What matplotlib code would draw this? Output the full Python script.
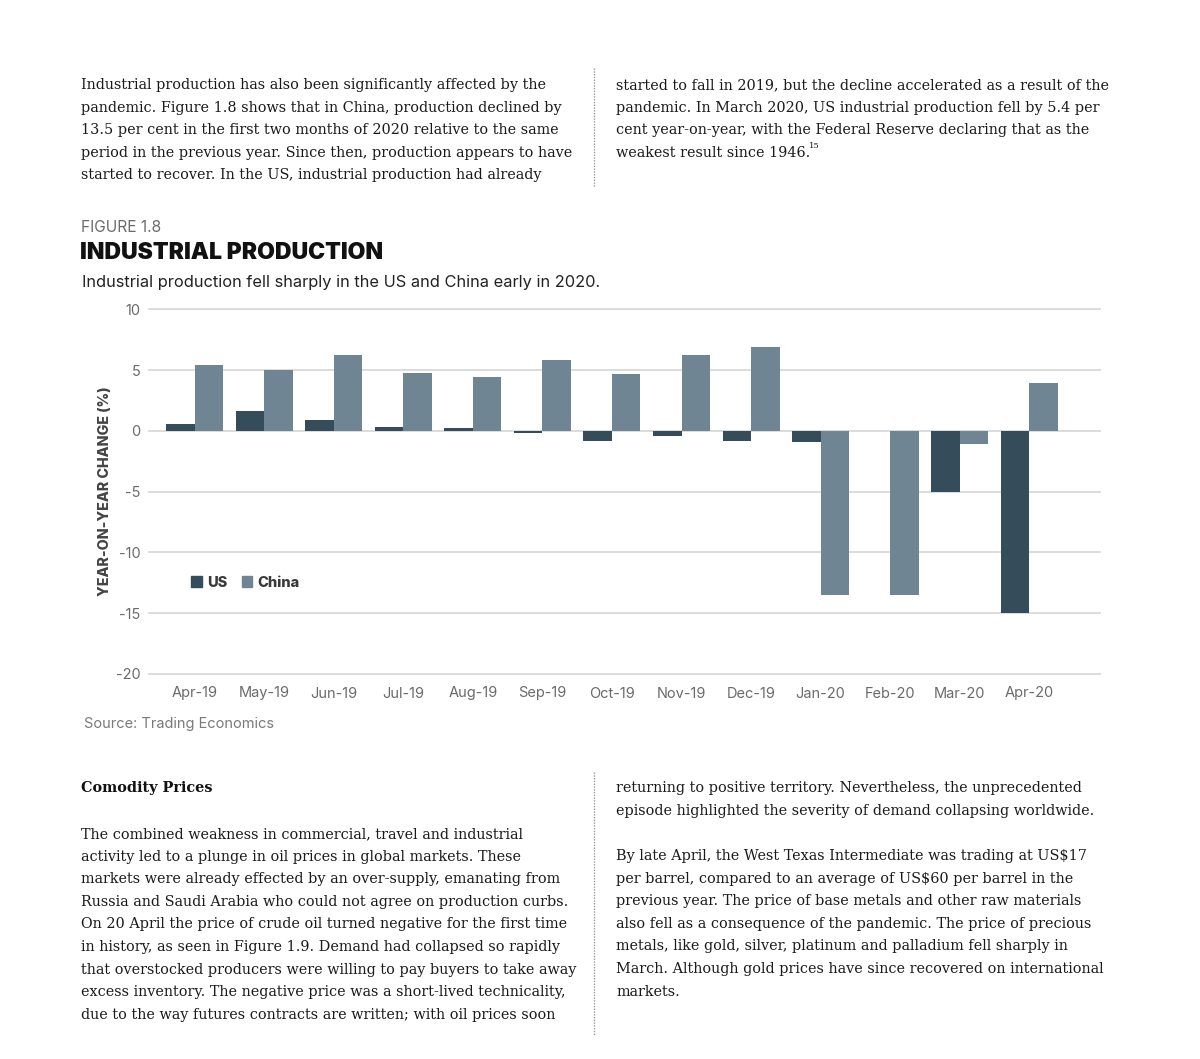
import numpy as np
import matplotlib.pyplot as plt
from matplotlib.patches import Patch

# Chart data (year-on-year change in industrial production, %)
months = ["Apr-19", "May-19", "Jun-19", "Jul-19", "Aug-19", "Sep-19", "Oct-19",
          "Nov-19", "Dec-19", "Jan-20", "Feb-20", "Mar-20", "Apr-20"]
us = [0.6, 1.6, 0.9, 0.3, 0.2, -0.2, -0.8, -0.4, -0.8, -0.9, 0.0, -5.0, -15.0]
china = [5.4, 5.0, 6.2, 4.8, 4.4, 5.8, 4.7, 6.2, 6.9, -13.5, -13.5, -1.1, 3.9]
y_ticks = [10, 5, 0, -5, -10, -15, -20]

# Page text
top_left = [
    "Industrial production has also been significantly affected by the",
    "pandemic. Figure 1.8 shows that in China, production declined by",
    "13.5 per cent in the first two months of 2020 relative to the same",
    "period in the previous year. Since then, production appears to have",
    "started to recover. In the US, industrial production had already",
]
top_right = [
    "started to fall in 2019, but the decline accelerated as a result of the",
    "pandemic. In March 2020, US industrial production fell by 5.4 per",
    "cent year-on-year, with the Federal Reserve declaring that as the",
    "weakest result since 1946.",
]
bottom_left = [
    "The combined weakness in commercial, travel and industrial",
    "activity led to a plunge in oil prices in global markets. These",
    "markets were already effected by an over-supply, emanating from",
    "Russia and Saudi Arabia who could not agree on production curbs.",
    "On 20 April the price of crude oil turned negative for the first time",
    "in history, as seen in Figure 1.9. Demand had collapsed so rapidly",
    "that overstocked producers were willing to pay buyers to take away",
    "excess inventory. The negative price was a short-lived technicality,",
    "due to the way futures contracts are written; with oil prices soon",
]
bottom_right_a = [
    "returning to positive territory. Nevertheless, the unprecedented",
    "episode highlighted the severity of demand collapsing worldwide.",
]
bottom_right_b = [
    "By late April, the West Texas Intermediate was trading at US$17",
    "per barrel, compared to an average of US$60 per barrel in the",
    "previous year. The price of base metals and other raw materials",
    "also fell as a consequence of the pandemic. The price of precious",
    "metals, like gold, silver, platinum and palladium fell sharply in",
    "March. Although gold prices have since recovered on international",
    "markets.",
]

W, H = 1200, 1059
SERIF = "DejaVu Serif"
SANS = "Inter"
BODY_SIZE = 10.35
LINE = 22.6
us_color = "#354c5a"
china_color = "#6f8593"

fig = plt.figure(figsize=(W / 100, H / 100), dpi=100)


def fy(py):
    return 1 - py / H


def put_lines(lines, x, y0):
    txts = []
    for i, s in enumerate(lines):
        txts.append(fig.text(x / W, fy(y0 + i * LINE), s, fontsize=BODY_SIZE,
                             family=SERIF, color="#1a1a1a", va="center", ha="left"))
    return txts


put_lines(top_left, 81, 85)
tr = put_lines(top_right, 616, 85)
put_lines(bottom_left, 81, 834)
put_lines(bottom_right_a, 616, 788)
put_lines(bottom_right_b, 616, 856)
fig.text(81 / W, fy(788), "Comodity Prices", fontsize=BODY_SIZE, family=SERIF,
         weight="bold", color="#111111", va="center")

# footnote marker after last line of top-right column
fig.canvas.draw()
bb = tr[-1].get_window_extent()
fig.text((bb.x1 - 1) / W, fy(146), "15", fontsize=6, family=SERIF,
         color="#1a1a1a", va="center")

# dotted column separators
for y_a, y_b in [(68, 187), (772, 1035)]:
    fig.add_artist(plt.Line2D([594 / W, 594 / W], [fy(y_a), fy(y_b)],
                              color="#9a9a9a", lw=1, linestyle=(0, (1, 1))))

# headings
fig.text(81 / W, fy(228), "FIGURE 1.8", fontsize=11.2, family=SANS,
         color="#6b6b6b", va="center")
fig.text(80 / W, fy(253), "INDUSTRIAL PRODUCTION", fontsize=16.5, family=SANS,
         weight="black", color="#111111", va="center")
fig.text(82 / W, fy(283), "Industrial production fell sharply in the US and China early in 2020.",
         fontsize=11.8, family=SANS, color="#222222", va="center")
fig.text(84 / W, fy(724), "Source: Trading Economics", fontsize=10.5,
         family=SANS, color="#7a7a7a", va="center")

# chart
ax = fig.add_axes([149 / W, fy(674), (1100 - 149) / W, (674 - 309.3) / H])
x = np.arange(len(months))
bw = 0.41
ax.bar(x - bw / 2, us, bw, color=us_color, zorder=3)
ax.bar(x + bw / 2, china, bw, color=china_color, zorder=3)
ax.set_xlim(-0.66, 13.02)
ax.set_ylim(-20, 10)
ax.set_yticks(y_ticks)
ax.set_yticklabels([str(v) for v in y_ticks])
ax.set_xticks(x)
ax.set_xticklabels(months)
for v in y_ticks:
    ax.axhline(v, color="#d9d9d9", lw=1.3, zorder=1, clip_on=False)
for s in ax.spines.values():
    s.set_visible(False)
ax.tick_params(length=0, labelsize=10.5, colors="#6b6b6b", pad=6)
ax.tick_params(axis="x", pad=9)
for lab in ax.get_xticklabels() + ax.get_yticklabels():
    lab.set_family(SANS)
ax.set_ylabel("YEAR-ON-YEAR CHANGE (%)", fontsize=10.3, family=SANS,
              weight="heavy", color="#444444", labelpad=3)

handles = [Patch(color=us_color, label="US"), Patch(color=china_color, label="China")]
leg = ax.legend(handles=handles, loc="center left", bbox_to_anchor=(0.03, 0.25),
                ncol=2, frameon=False, handlelength=0.75, handleheight=0.75,
                handletextpad=0.35, columnspacing=1.0,
                prop={"family": SANS, "weight": "heavy", "size": 10.5})
for t in leg.get_texts():
    t.set_color("#3a3a3a")

fig.savefig("out.png", dpi=100, facecolor="white")
